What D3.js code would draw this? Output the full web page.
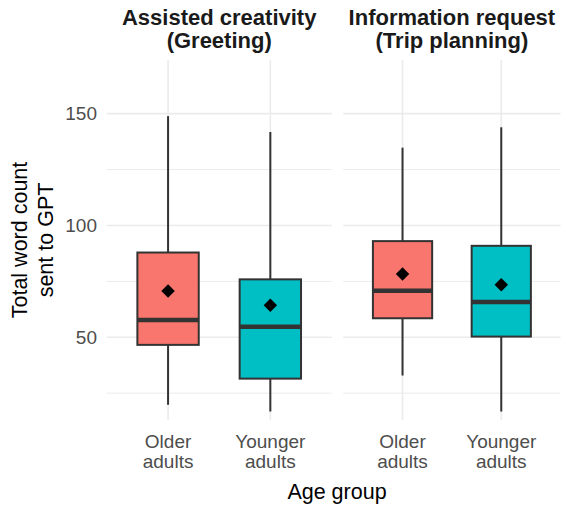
<!DOCTYPE html>
<html>
<head>
<meta charset="utf-8">
<script src="https://cdn.jsdelivr.net/npm/d3@7"></script>
<style>
  html, body { margin: 0; padding: 0; background: #fff; }
  svg { display: block; font-family: "Liberation Sans", Arial, sans-serif; }
</style>
</head>
<body>
<svg id="chart" width="566" height="508"></svg>
<script>
// Facets (task type) and age groups
const panels = ["Assisted creativity\n(Greeting)", "Information request\n(Trip planning)"];
const groups = ["Older\nadults", "Younger\nadults"];
const groupColors = ["#F8766D", "#00BFC4"];

// Box statistics per facet, in the order of `groups`
const lowerWhisker = [[19.8, 16.8], [32.9, 16.8]];
const q1 = [[46.6, 31.5], [58.5, 50.3]];
const median = [[57.7, 54.7], [70.8, 65.8]];
const q3 = [[87.9, 75.9], [93.0, 90.9]];
const upperWhisker = [[148.9, 141.8], [134.8, 143.9]];
const meanValue = [[70.7, 64.3], [78.3, 73.5]];

const majorTicks = [50, 100, 150];
const minorTicks = [25, 75, 125];

const yLabel = ["Total word count", "sent to GPT"];
const xLabel = "Age group";

const svg = d3.select("#chart");

const panelTop = 60, panelBottom = 420;
const panelX = [[106.7, 331.7], [343.3, 560.5]];

const y = d3.scaleLinear().domain([13, 174]).range([panelBottom, panelTop]);

// y tick labels
svg.append("g").selectAll("text")
  .data(majorTicks)
  .join("text")
  .attr("x", 97)
  .attr("y", d => y(d))
  .attr("dy", "0.35em")
  .attr("text-anchor", "end")
  .attr("fill", "#4D4D4D")
  .attr("font-size", 19)
  .text(d => d);

// y axis title
const yt = svg.append("text")
  .attr("transform", `translate(0,${(panelTop + panelBottom) / 2}) rotate(-90)`)
  .attr("text-anchor", "middle")
  .attr("fill", "#000")
  .attr("font-size", 21.5);
yt.selectAll("tspan").data(yLabel).join("tspan")
  .attr("x", 0)
  .attr("y", (d, i) => 26.5 + i * 26.5)
  .text(d => d);

panels.forEach((title, p) => {
  const [x0, x1] = panelX[p];
  const x = d3.scaleLinear().domain([0.4, 2.6]).range([x0, x1]);
  const g = svg.append("g");

  // grid
  g.selectAll("line.minor").data(minorTicks).join("line")
    .attr("x1", x0).attr("x2", x1)
    .attr("y1", d => y(d)).attr("y2", d => y(d))
    .attr("stroke", "#EBEBEB").attr("stroke-width", 1);
  g.selectAll("line.major").data(majorTicks).join("line")
    .attr("x1", x0).attr("x2", x1)
    .attr("y1", d => y(d)).attr("y2", d => y(d))
    .attr("stroke", "#EBEBEB").attr("stroke-width", 1.6);
  g.selectAll("line.vgrid").data(groups).join("line")
    .attr("x1", (d, i) => x(i + 1)).attr("x2", (d, i) => x(i + 1))
    .attr("y1", panelTop).attr("y2", panelBottom)
    .attr("stroke", "#EBEBEB").attr("stroke-width", 1.6);

  const boxW = x(1.3) - x(1);
  const idx = groups.map((d, i) => i);

  // whiskers
  g.selectAll("line.whiskUp").data(idx).join("line")
    .attr("x1", i => x(i + 1)).attr("x2", i => x(i + 1))
    .attr("y1", i => y(q3[p][i])).attr("y2", i => y(upperWhisker[p][i]))
    .attr("stroke", "#333").attr("stroke-width", 2);
  g.selectAll("line.whiskDn").data(idx).join("line")
    .attr("x1", i => x(i + 1)).attr("x2", i => x(i + 1))
    .attr("y1", i => y(q1[p][i])).attr("y2", i => y(lowerWhisker[p][i]))
    .attr("stroke", "#333").attr("stroke-width", 2);

  // boxes
  g.selectAll("rect.box").data(idx).join("rect")
    .attr("x", i => x(i + 1) - boxW)
    .attr("width", boxW * 2)
    .attr("y", i => y(q3[p][i]))
    .attr("height", i => y(q1[p][i]) - y(q3[p][i]))
    .attr("fill", i => groupColors[i])
    .attr("stroke", "#333").attr("stroke-width", 2);

  // medians
  g.selectAll("line.med").data(idx).join("line")
    .attr("x1", i => x(i + 1) - boxW).attr("x2", i => x(i + 1) + boxW)
    .attr("y1", i => y(median[p][i])).attr("y2", i => y(median[p][i]))
    .attr("stroke", "#333").attr("stroke-width", 4.5);

  // means
  const diamond = d3.symbol().type(d3.symbolDiamond2).size(115);
  g.selectAll("path.mean").data(idx).join("path")
    .attr("transform", i => `translate(${x(i + 1)},${y(meanValue[p][i])})`)
    .attr("d", diamond)
    .attr("fill", "#000");

  // x tick labels
  g.selectAll("text.xt").data(groups).join("text")
    .attr("text-anchor", "middle")
    .attr("fill", "#4D4D4D")
    .attr("font-size", 19)
    .each(function(d, i) {
      d3.select(this).selectAll("tspan").data(d.split("\n")).join("tspan")
        .attr("x", x(i + 1))
        .attr("y", (s, k) => 447.5 + k * 20.5)
        .text(s => s);
    });

  // facet strip title
  const st = g.append("text")
    .attr("text-anchor", "middle")
    .attr("font-weight", "bold")
    .attr("fill", "#1A1A1A")
    .attr("font-size", 22);
  st.selectAll("tspan").data(title.split("\n")).join("tspan")
    .attr("x", (x0 + x1) / 2)
    .attr("y", (s, k) => 25 + k * 23.3)
    .text(s => s);
});

// x axis title
svg.append("text")
  .attr("x", 337)
  .attr("y", 499)
  .attr("text-anchor", "middle")
  .attr("fill", "#000")
  .attr("font-size", 21.5)
  .text(xLabel);
</script>
</body>
</html>
